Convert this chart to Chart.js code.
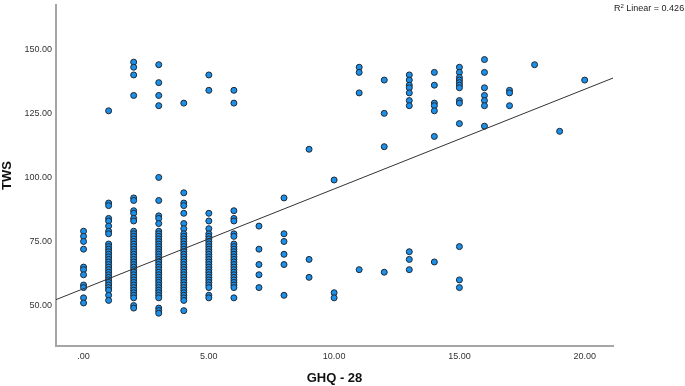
<!DOCTYPE html>
<html>
<head>
<meta charset="utf-8">
<script src="https://cdn.jsdelivr.net/npm/chart.js@4.4.1/dist/chart.umd.min.js"></script>
<style>
  html, body { margin: 0; padding: 0; background: #fff; }
  #wrap { width: 685px; height: 386px; }
</style>
</head>
<body>
<div id="wrap"><canvas id="scatter" width="685" height="386"></canvas></div>
<script>
// GHQ-28 score (x) vs TWS (y)
const ghqLevels = [0, 1, 2, 3, 4, 5, 6, 7, 8, 9, 10, 11, 12, 13, 14, 15, 16, 17, 18, 19, 20];
const twsByLevel = [
  [79, 77, 75, 72, 65, 64, 62, 58, 57, 53, 51],
  [126, 90, 89, 84, 83, 81, 79, 78, 74, 73, 72, 71, 70, 69, 68, 67, 66, 65, 64, 63, 62, 61, 60, 59, 58, 57, 56, 54, 52],
  [145, 143, 140, 132, 92, 91, 87, 86, 84, 83, 79, 78, 77, 76, 75, 74, 73, 72, 71, 70, 69, 68, 67, 66, 65, 64, 63, 62, 61, 60, 59, 58, 57, 56, 55, 54, 53, 50, 49],
  [144, 137, 132, 128, 100, 91, 85, 84, 82, 79, 78, 77, 76, 75, 74, 73, 72, 71, 70, 69, 68, 67, 66, 65, 64, 63, 62, 61, 60, 59, 58, 57, 56, 55, 54, 53, 49, 48, 47],
  [129, 94, 90, 89, 86, 82, 80, 78, 77, 76, 75, 74, 73, 72, 71, 70, 69, 68, 67, 66, 65, 64, 63, 62, 61, 60, 59, 58, 57, 56, 55, 54, 53, 52, 48],
  [140, 134, 86, 83, 80, 78, 77, 76, 75, 74, 73, 72, 71, 70, 69, 68, 67, 66, 65, 64, 63, 62, 61, 60, 59, 58, 57, 54, 53],
  [134, 129, 87, 84, 83, 78, 77, 74, 73, 72, 71, 70, 69, 68, 67, 66, 65, 64, 63, 62, 61, 60, 59, 58, 57, 53],
  [81, 72, 66, 62, 57],
  [92, 78, 75, 70, 66, 54],
  [111, 68, 61],
  [99, 55, 53],
  [143, 141, 133, 64],
  [138, 125, 112, 63],
  [140, 138, 136, 135, 133, 130, 128, 71, 68, 64],
  [141, 136, 129, 128, 126, 116, 67],
  [143, 141, 139, 138, 137, 136, 135, 130, 129, 121, 73, 60, 57],
  [146, 141, 135, 132, 130, 128, 120],
  [134, 133, 128],
  [144],
  [118],
  [138]
];

// linear fit line, ends read at the axis edges
const fitX = [-1.1, 21.13];
const fitY = [52.3, 138.8];

const xTicks = [0, 5, 10, 15, 20];
const yTicks = [50, 75, 100, 125, 150];
const rSquared = 0.426;

const points = [];
ghqLevels.forEach((g, i) => {
  twsByLevel[i].forEach(v => points.push({x: g, y: v}));
});
const fitLine = fitX.map((x, i) => ({x: x, y: fitY[i]}));

const family = 'Arial, "Liberation Sans", sans-serif';
const tickFont = {family: family, size: 9};
const titleFont = {family: family, size: 13, weight: 'bold'};

const fmt = v => v === 0 ? '.00' : v.toFixed(2);

// "R² Linear = 0.426" in the top right corner
const r2Label = {
  id: 'r2Label',
  afterDraw(chart) {
    const ctx = chart.ctx;
    ctx.save();
    ctx.fillStyle = '#222';
    ctx.textBaseline = 'alphabetic';
    let x = 614, y = 11;
    ctx.font = '9px ' + family;
    ctx.fillText('R', x, y);
    x += ctx.measureText('R').width;
    ctx.font = '6px ' + family;
    ctx.fillText('2', x, y - 3);
    x += ctx.measureText('2').width;
    ctx.font = '9px ' + family;
    ctx.fillText(' Linear = ' + rSquared.toFixed(3), x, y);
    ctx.restore();
  }
};

const chart = new Chart(document.getElementById('scatter'), {
  type: 'scatter',
  data: {
    datasets: [
      {
        type: 'line',
        data: fitLine,
        borderColor: '#333',
        borderWidth: 1,
        pointRadius: 0,
        fill: false
      },
      {
        data: points,
        backgroundColor: '#1b90ea',
        borderColor: '#1f2833',
        borderWidth: 1,
        pointRadius: 3
      }
    ]
  },
  options: {
    responsive: false,
    animation: false,
    layout: {padding: {left: 0, right: 72, top: 0, bottom: 0}},
    plugins: {
      legend: {display: false},
      tooltip: {enabled: false}
    },
    scales: {
      x: {
        type: 'linear',
        min: -1.1,
        max: 21.13,
        afterBuildTicks: s => { s.ticks = xTicks.map(v => ({value: v})); },
        afterFit: s => { s.height = 40; s.paddingLeft = 0; s.paddingRight = 0; },
        grid: {display: false, drawTicks: false},
        border: {display: true, color: '#a5a5a5', width: 2},
        ticks: {callback: fmt, font: tickFont, color: '#333', padding: 5, maxRotation: 0, autoSkip: false},
        title: {display: true, text: 'GHQ - 28', font: titleFont, color: '#111', padding: {top: 0, bottom: 0}}
      },
      y: {
        type: 'linear',
        min: 34.2,
        max: 167.3,
        afterBuildTicks: s => { s.ticks = yTicks.map(v => ({value: v})); },
        afterFit: s => { s.width = 56; s.paddingTop = 0; s.paddingBottom = 0; },
        grid: {display: false, drawTicks: false},
        border: {display: true, color: '#a5a5a5', width: 2},
        ticks: {callback: fmt, font: tickFont, color: '#333', padding: 4, autoSkip: false},
        title: {display: true, text: 'TWS', font: titleFont, color: '#111', padding: {top: 0, bottom: 0}}
      }
    }
  },
  plugins: [r2Label]
});
</script>
</body>
</html>
